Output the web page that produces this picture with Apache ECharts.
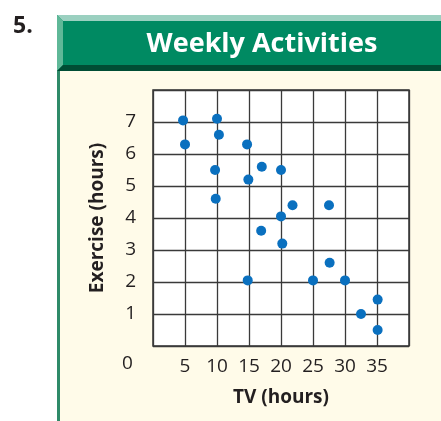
<!DOCTYPE html>
<html>
<head>
<meta charset="utf-8">
<script src="https://cdn.jsdelivr.net/npm/echarts@6/dist/echarts.min.js"></script>
<style>
  html, body { margin: 0; padding: 0; background: #ffffff; }
  #chart { width: 441px; height: 421px; }
</style>
</head>
<body>
<div id="chart"></div>
<script>
// Hours of TV watched per week for each student
const tvHours = [4.7, 10, 10.3, 5, 14.7, 9.7, 17, 20, 14.9, 9.8, 21.8, 27.5, 20, 16.9, 20.2, 27.6, 14.8, 25, 30, 32.5, 35.1, 35.1];
// Hours of exercise per week for the same students
const exerciseHours = [7.05, 7.1, 6.6, 6.3, 6.3, 5.5, 5.6, 5.5, 5.2, 4.6, 4.4, 4.4, 4.05, 3.6, 3.2, 2.6, 2.05, 2.05, 2.05, 1.0, 1.45, 0.5];
// Tick values shown on each axis
const xTicks = [5, 10, 15, 20, 25, 30, 35];
const yTicks = [1, 2, 3, 4, 5, 6, 7];

const points = tvHours.map((t, i) => [t, exerciseHours[i]]);
const labelFont = '"Open Sans", "Noto Sans", sans-serif';
const inkColor = '#231f20';

const chart = echarts.init(document.getElementById('chart'), null, { renderer: 'canvas' });

chart.setOption({
  backgroundColor: '#ffffff',
  animation: false,
  graphic: [
    // cream panel
    { type: 'rect', z: -10, shape: { x: 57, y: 15, width: 384, height: 406 }, style: { fill: '#fffbe9' } },
    // left panel rule
    { type: 'rect', z: -9, shape: { x: 57, y: 15, width: 3, height: 406 }, style: { fill: '#2f8a68' } },
    // header band
    { type: 'rect', z: -8, shape: { x: 57, y: 15, width: 384, height: 56 }, style: { fill: '#008a62' } },
    // top bevel
    { type: 'polygon', z: -7, shape: { points: [[57, 15], [441, 15], [441, 21], [63, 21]] }, style: { fill: '#9bd0c0' } },
    // left bevel
    { type: 'polygon', z: -7, shape: { points: [[57, 15], [63, 21], [63, 65], [57, 71]] }, style: { fill: '#5fb898' } },
    // bottom shadow
    { type: 'polygon', z: -7, shape: { points: [[63, 65], [441, 65], [441, 71], [57, 71]] }, style: { fill: '#004d34' } },
    // problem number
    { type: 'text', left: 13, top: 15, style: { text: '5.', font: 'bold 23px ' + labelFont, fill: inkColor } },
    // shared origin label
    { type: 'text', left: 122, top: 354, style: { text: '0', font: '19px ' + labelFont, fill: inkColor } }
  ],
  title: {
    text: 'Weekly Activities',
    left: 257,
    top: 26,
    textAlign: 'center',
    textStyle: { color: '#ffffff', fontSize: 27, fontWeight: 'bold', fontFamily: labelFont }
  },
  grid: {
    left: 153,
    top: 90,
    width: 256,
    height: 256,
    show: true,
    backgroundColor: '#ffffff',
    borderColor: '#333333',
    borderWidth: 1.5
  },
  xAxis: {
    type: 'value',
    min: 0,
    max: 40,
    interval: 5,
    name: 'TV (hours)',
    nameLocation: 'middle',
    nameGap: 42,
    nameTextStyle: { color: inkColor, fontSize: 19, fontWeight: 'bold', fontFamily: labelFont },
    axisLine: { show: false },
    axisTick: { show: false },
    axisLabel: {
      margin: 11,
      color: inkColor,
      fontSize: 19,
      fontFamily: labelFont,
      formatter: v => (xTicks.includes(v) ? String(v) : '')
    },
    splitLine: { show: true, lineStyle: { color: '#3a3a3a', width: 1.3 } }
  },
  yAxis: {
    type: 'value',
    min: 0,
    max: 8,
    interval: 1,
    name: 'Exercise (hours)',
    nameLocation: 'middle',
    nameGap: 46,
    nameTextStyle: { color: inkColor, fontSize: 19, fontWeight: 'bold', fontFamily: labelFont },
    axisLine: { show: false },
    axisTick: { show: false },
    axisLabel: {
      margin: 17,
      color: inkColor,
      fontSize: 19,
      fontFamily: labelFont,
      formatter: v => (yTicks.includes(v) ? String(v) : '')
    },
    splitLine: { show: true, lineStyle: { color: '#3a3a3a', width: 1.3 } }
  },
  series: [{
    type: 'scatter',
    data: points,
    symbol: 'circle',
    symbolSize: 10,
    itemStyle: { color: '#0a70bf', opacity: 1 },
    z: 5
  }]
});
</script>
</body>
</html>
